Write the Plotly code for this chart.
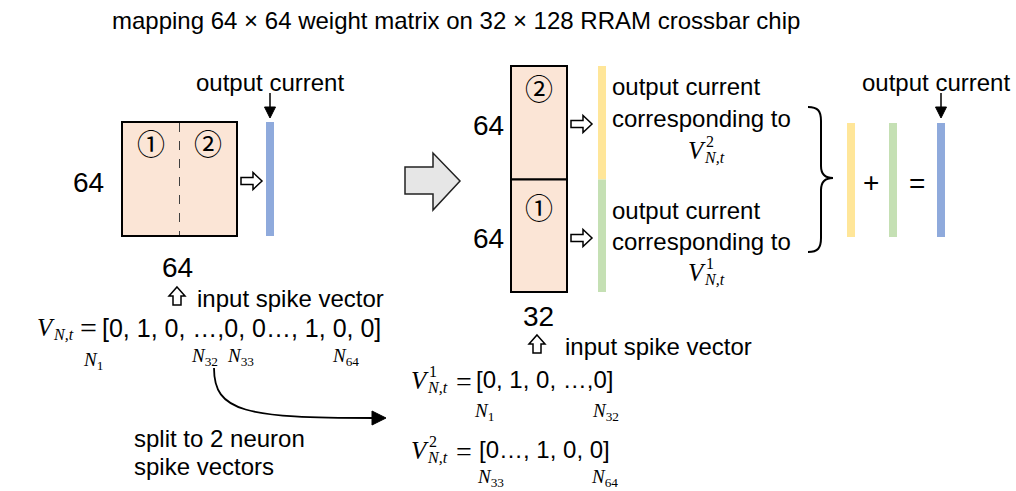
import plotly.graph_objects as go

# ---- content (text values) ----
title_text = "mapping 64 \u00d7 64 weight matrix on 32 \u00d7 128 RRAM crossbar chip"
dim_labels = ["64", "64", "64", "64", "32"]
region_marks = ["\u2460", "\u2461"]
caption_output = "output current"
caption_corr = "corresponding to"
caption_input = "input spike vector"
split_lines = ["split to 2 neuron", "spike vectors"]
full_vector = "[0, 1, 0, \u2026,0, 0\u2026, 1, 0, 0]"
sub_vectors = ["[0, 1, 0, \u2026,0]", "[0\u2026, 1, 0, 0]"]
neuron_idx_full = ["1", "32", "33", "64"]
neuron_idx_sub1 = ["1", "32"]
neuron_idx_sub2 = ["33", "64"]
part_ids = ["1", "2"]

W, H = 1016, 491
SANS = "Liberation Sans, Arial, sans-serif"
SERIF = "Liberation Serif, Times New Roman, serif"
CIRC = "Noto Sans CJK JP, Noto Sans CJK SC, DejaVu Sans"

PEACH = "#FBE5D6"
BLUE = "#8FAADC"
YELLOW = "#FFE699"
GREEN = "#C5E0B4"

fig = go.Figure()
shapes = []
annos = []


def txt(x, y, s, size=24, family=SANS, xa="center", ya="middle", color="black"):
    annos.append(dict(x=x, y=y, xref="x", yref="y", text=s, showarrow=False,
                      xanchor=xa, yanchor=ya, borderpad=0,
                      font=dict(size=size, family=family, color=color)))


def rect(x0, y0, x1, y1, fill, lw=2, lc="black"):
    shapes.append(dict(type="rect", xref="x", yref="y", x0=x0, y0=y0, x1=x1, y1=y1,
                       fillcolor=fill, line=dict(color=lc, width=lw), layer="above"))


def bar(x0, y0, x1, y1, fill):
    shapes.append(dict(type="rect", xref="x", yref="y", x0=x0, y0=y0, x1=x1, y1=y1,
                       fillcolor=fill, line=dict(width=0), layer="above"))


def path(d, fill="rgba(0,0,0,0)", lw=1.5, lc="black", dash="solid"):
    shapes.append(dict(type="path", xref="x", yref="y", path=d, fillcolor=fill,
                       line=dict(color=lc, width=lw, dash=dash), layer="above"))


def right_hollow(x, y):
    d = (f"M {x},{y-3.5} L {x+12},{y-3.5} L {x+12},{y-8.5} L {x+21},{y} "
         f"L {x+12},{y+8.5} L {x+12},{y+3.5} L {x},{y+3.5} Z")
    path(d, fill="white", lw=1.5)


def up_hollow(cx, ty):
    d = (f"M {cx},{ty} L {cx+8},{ty+9} L {cx+4},{ty+9} L {cx+4},{ty+18} "
         f"L {cx-4},{ty+18} L {cx-4},{ty+9} L {cx-8},{ty+9} Z")
    path(d, fill="white", lw=1.5)


def down_arrow(cx, y0, y1):
    shapes.append(dict(type="line", xref="x", yref="y", x0=cx, y0=y0, x1=cx, y1=y1 - 10,
                       line=dict(color="black", width=1.5), layer="above"))
    path(f"M {cx-5.5},{y1-11} L {cx+5.5},{y1-11} L {cx},{y1} Z", fill="black", lw=1)


def vsym(x, y, sup=None, sub="N,t", size=25):
    txt(x, y, "<i>V</i>", size=size, family=SERIF)
    if sup is not None:
        txt(x + 8, y - 9, sup, size=16, family=SERIF, xa="left")
    txt(x + 6, y + 7, f"<i>{sub}</i>", size=16, family=SERIF, xa="left")


def nsym(x, y, idx):
    txt(x, y, f"<i>N</i><sub>{idx}</sub>", size=19, family=SERIF)


# ---- title ----
txt(456, 20, title_text, size=24)

# ---- left: 64x64 matrix ----
rect(122, 122, 237, 236, PEACH)
shapes.append(dict(type="line", xref="x", yref="y", x0=179.5, y0=123, x1=179.5, y1=235,
                   line=dict(color="#404040", width=1, dash="dash"), layer="above"))
txt(151, 143, region_marks[0], size=28, family=CIRC)
txt(208, 143, region_marks[1], size=28, family=CIRC)
txt(88, 182, dim_labels[0], size=28)
txt(177, 267, dim_labels[1], size=28)
right_hollow(241, 181)
bar(266, 122, 274, 236, BLUE)
txt(270, 82, caption_output, size=24)
down_arrow(270, 93, 118)

# input spike vector (left)
up_hollow(177, 287)
txt(196, 298, caption_input, size=24, xa="left")
vsym(46, 327, sup=None)
txt(88, 327, "=", size=30, family=SERIF)
txt(101, 328, full_vector, size=25, xa="left")
nsym(93, 361, neuron_idx_full[0])
nsym(204, 357, neuron_idx_full[1])
nsym(240, 357, neuron_idx_full[2])
nsym(345, 357, neuron_idx_full[3])

# curved split arrow
path("M 214,368 C 214,412 245,418 374,418", lw=1.8)
path("M 372,411 L 386,418 L 372,425 Z", fill="black", lw=1)
txt(133, 438, split_lines[0], size=24, xa="left")
txt(133, 466, split_lines[1], size=24, xa="left")

# ---- big grey arrow ----
path("M 405,167 L 433,167 L 433,153 L 460,181 L 433,210 L 433,194 L 405,194 Z",
     fill="#E6E6E6", lw=1.5, lc="#222222")

# ---- right: 32x128 crossbar ----
rect(511, 66, 567, 179.5, PEACH)
rect(511, 179.5, 567, 292, PEACH)
txt(539, 88, region_marks[1], size=28, family=CIRC)
txt(539, 207, region_marks[0], size=28, family=CIRC)
txt(488, 125, dim_labels[2], size=28)
txt(488, 238, dim_labels[3], size=28)
right_hollow(571, 124)
right_hollow(571, 238)
bar(598, 66, 606, 179.5, YELLOW)
bar(598, 179.5, 606, 292, GREEN)

txt(611, 86, caption_output, size=24, xa="left")
txt(611, 118, caption_corr, size=24, xa="left")
vsym(697, 150, sup=part_ids[1])
txt(611, 210, caption_output, size=24, xa="left")
txt(611, 241, caption_corr, size=24, xa="left")
vsym(697, 272, sup=part_ids[0])

txt(538, 316, dim_labels[4], size=28)
up_hollow(537, 335)
txt(564, 346, caption_input, size=24, xa="left")

# sub vectors
vsym(420, 380, sup=part_ids[0])
txt(464, 381, "=", size=28, family=SERIF)
txt(475, 379, sub_vectors[0], size=24, xa="left")
nsym(484, 412, neuron_idx_sub1[0])
nsym(605, 412, neuron_idx_sub1[1])

vsym(420, 450, sup=part_ids[1])
txt(464, 451, "=", size=28, family=SERIF)
txt(478, 449, sub_vectors[1], size=24, xa="left")
nsym(490, 478, neuron_idx_sub2[0])
nsym(604, 478, neuron_idx_sub2[1])

# ---- brace and sum ----
path("M 808,107 C 818,107 821,111 821,121 L 821,166 C 821,175 826,178 833,178 "
     "C 826,178 821,181 821,190 L 821,238 C 821,248 818,252 808,252", lw=2)
bar(847, 123, 855, 237, YELLOW)
bar(889, 123, 897, 237, GREEN)
bar(937, 123, 945, 237, BLUE)
txt(871, 182, "+", size=28)
txt(917, 183, "=", size=28)
txt(936, 82, caption_output, size=24)
down_arrow(941, 93, 118)

fig.update_layout(
    width=W, height=H, margin=dict(l=0, r=0, t=0, b=0),
    paper_bgcolor="white", plot_bgcolor="white",
    xaxis=dict(range=[0, W], visible=False, fixedrange=True),
    yaxis=dict(range=[H, 0], visible=False, fixedrange=True),
    shapes=shapes, annotations=annos, showlegend=False,
)
fig.write_html(
    "out.html",
    config={"displayModeBar": False},
    post_script="document.body.style.margin='0';document.body.style.overflow='hidden';",
)
